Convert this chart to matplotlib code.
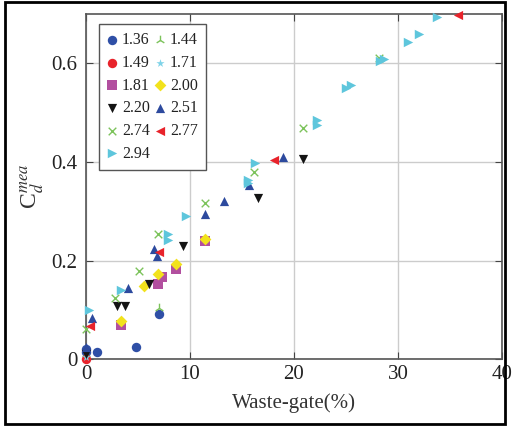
import numpy as np
import matplotlib
matplotlib.use('Agg')
from matplotlib import pyplot as plt
from matplotlib.patches import Rectangle

plt.rcParams['font.family'] = ['Liberation Serif', 'DejaVu Serif']
plt.rcParams['mathtext.fontset'] = 'stix'

# waste-gate opening (%) and C_d^mea for each series
x136 = [0, 0, 1.05, 4.78, 7.05]
y136 = [0.015, 0.021, 0.0135, 0.025, 0.091]
x144 = [0, 7.05]
y144 = [0.01, 0.104]
x149 = [0]
y149 = [0.0]
x171 = [0]
y171 = [0.005]
x181 = [3.37, 6.9, 7.34, 8.68, 11.47]
y181 = [0.069, 0.152, 0.166, 0.182, 0.239]
x200 = [3.37, 5.6, 6.89, 8.68, 11.47]
y200 = [0.078, 0.149, 0.172, 0.192, 0.244]
x220 = [0, 3.0, 3.78, 6.03, 9.33, 16.57, 20.9]
y220 = [0.01, 0.108, 0.107, 0.153, 0.23, 0.327, 0.407]
x251 = [0, 0.6, 4.0, 6.54, 6.85, 11.47, 13.3, 15.7, 18.94]
y251 = [0.025, 0.084, 0.145, 0.224, 0.209, 0.295, 0.321, 0.353, 0.41]
x274 = [0, 2.75, 5.08, 6.96, 11.47, 16.15, 20.83, 28.17]
y274 = [0.062, 0.124, 0.178, 0.254, 0.316, 0.379, 0.469, 0.611]
x277 = [0.4, 7.05, 18.05, 35.8]
y277 = [0.068, 0.218, 0.404, 0.698]
x294 = [0.25, 3.33, 7.9, 7.9, 9.6, 15.55, 15.6, 16.3, 22.2, 22.2,
        24.97, 25.45, 28.27, 28.65, 30.93, 32.05, 33.8]
y294 = [0.1, 0.141, 0.253, 0.241, 0.29, 0.357, 0.363, 0.398, 0.486, 0.474,
        0.5505, 0.557, 0.604, 0.608, 0.643, 0.659, 0.695]

labels = ['1.36', '1.44', '1.49', '1.71', '1.81', '2.00',
          '2.20', '2.51', '2.74', '2.77', '2.94']
xs = [x136, x144, x149, x171, x181, x200, x220, x251, x274, x277, x294]
ys = [y136, y144, y149, y171, y181, y200, y220, y251, y274, y277, y294]
markers = ['o', '2', 'o', '*', 's', 'D', 'v', '^', 'x', '<', '>']
colors = ['#2f4fa6', '#7cc35b', '#e8232b', '#7fd3e8', '#b24f9f', '#f2e21c',
          '#141414', '#2d4a9e', '#7cc35b', '#e8232b', '#5ec6dc']
sizes = [46, 48, 46, 38, 52, 36, 44, 44, 30, 44, 46]

fig = plt.figure(figsize=(5.18, 4.28), dpi=100)
ax = fig.add_axes([0.166, 0.161, 0.803, 0.806])

handles = []
for x, y, m, c, s, lab in zip(xs, ys, markers, colors, sizes, labels):
    lw = 1.0 if m in ('x', '2') else 0
    h = ax.scatter(x, y, marker=m, c=c, s=s, linewidths=lw,
                   label=lab, clip_on=False, zorder=3)
    handles.append(h)

ax.set_xlim(0, 40)
ax.set_ylim(0, 0.7)
ax.set_xticks([0, 10, 20, 30, 40])
ax.set_yticks([0, 0.2, 0.4, 0.6])
ax.set_yticklabels(['0', '0.2', '0.4', '0.6'])
ax.grid(True, color='#cccccc', lw=1)
ax.set_axisbelow(True)
ax.tick_params(direction='in', top=True, right=True, length=5,
               labelsize=15, colors='#444444', labelcolor='#222222')
ax.tick_params(axis='y', pad=6)
ax.tick_params(axis='x', pad=4)
for sp in ax.spines.values():
    sp.set_color('#555555')
    sp.set_linewidth(1.2)

ax.set_xlabel('Waste-gate(%)', fontsize=15, color='#333333', labelpad=7)
ax.set_ylabel(r'C$_{d}^{mea}$', fontsize=17, color='#333333', labelpad=4)

order = [0, 2, 4, 6, 8, 10, 1, 3, 5, 7, 9]
leg = ax.legend([handles[i] for i in order], [labels[i] for i in order],
                ncol=2, loc='upper left', bbox_to_anchor=(0.031, 0.971),
                borderaxespad=0, fontsize=11.5, fancybox=False, framealpha=1,
                edgecolor='#555555', handlelength=0.7, handletextpad=0.25,
                columnspacing=0.3, labelspacing=0.42, borderpad=0.5,
                scatterpoints=1)
leg.get_frame().set_linewidth(1.0)
for t in leg.get_texts():
    t.set_color('#222222')

fig.patches.append(Rectangle((0.0105, 0.009), 0.964, 0.987, fill=False,
                             lw=2, ec='black', transform=fig.transFigure))

fig.savefig('out.png', dpi=100)
